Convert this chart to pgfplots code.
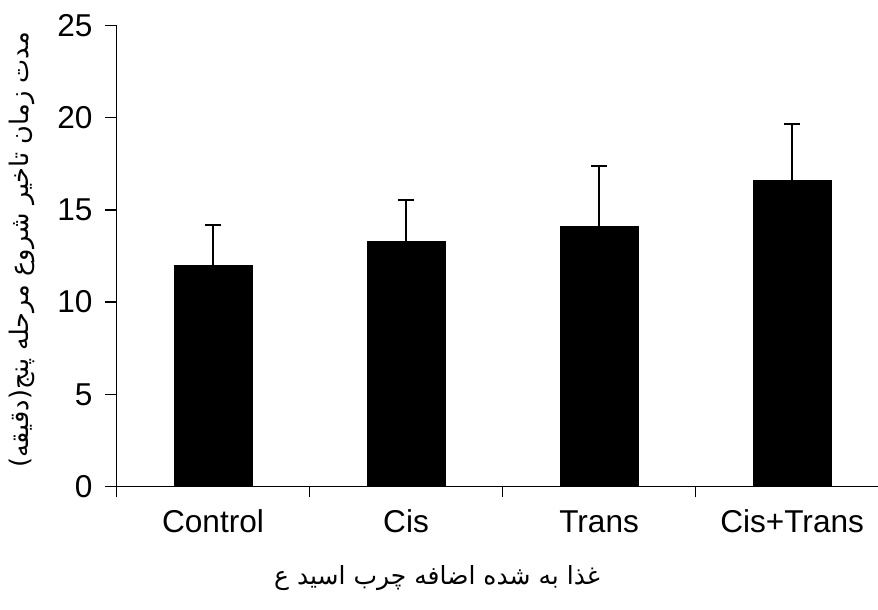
\documentclass[border=0pt]{standalone}
\usepackage{fontspec}
\setmainfont{Liberation Sans}
\newfontfamily\arabicfont[Script=Arabic]{DejaVu Sans}
\TeXXeTstate=1
\usepackage{pgfplots}
\pgfplotsset{compat=1.18}
\begin{document}
\begin{tikzpicture}
\begin{axis}[
  scale only axis,
  width=380.75pt, height=230.5pt,
  at={(0,0)}, anchor=south west,
  xmin=-0.5, xmax=3.445,
  ymin=0, ymax=25,
  axis x line*=bottom, axis y line*=left,
  axis line style={line width=0.7pt, -},
  xtick={-0.5,0.5,1.5,2.5},
  xticklabels={},
  extra x ticks={0,1,2,3},
  extra x tick labels={Control,Cis,Trans,Cis+Trans},
  extra x tick style={major tick length=0pt},
  ytick={0,5,10,15,20,25},
  tick align=outside,
  major tick length=5.5pt,
  tick style={line width=0.7pt, black},
  font=\fontsize{15.8pt}{18pt}\selectfont,
  /pgf/number format/assume math mode=true,
  yticklabel style={xshift=-3pt},
  xticklabel style={text height=11.5pt, text depth=3pt, yshift=-7.75pt},
  xlabel={\arabicfont\fontsize{12.5pt}{14pt}\selectfont\beginR غذا به شده اضافه چرب اسید ع\endR},
  xlabel style={at={(rel axis cs:0.421,-0.1985)}, anchor=center},
  ylabel={\arabicfont\fontsize{12.8pt}{14pt}\selectfont\beginR مدت زمان تاخیر شروع مرحله پنج(دقیقه)\endR},
  ylabel style={at={(rel axis cs:-0.1241,0.513)}, anchor=center},
  clip=false,
]
\addplot[ybar, bar width=39pt, fill=black, draw=black,
  error bars/.cd, y dir=plus, y explicit,
  error mark=-,
  error bar style={line width=1pt, black},
  error mark options={rotate=90, line width=1pt, mark size=4pt, black}]
  coordinates {
  (0,12.0) +- (0,2.2)
  (1,13.3) +- (0,2.25)
  (2,14.1) +- (0,3.3)
  (3,16.6) +- (0,3.05)
  };
\end{axis}
\pgfresetboundingbox
\useasboundingbox (-58.25pt,-61.75pt) rectangle (380.75pt,243.25pt);
\end{tikzpicture}
\end{document}
